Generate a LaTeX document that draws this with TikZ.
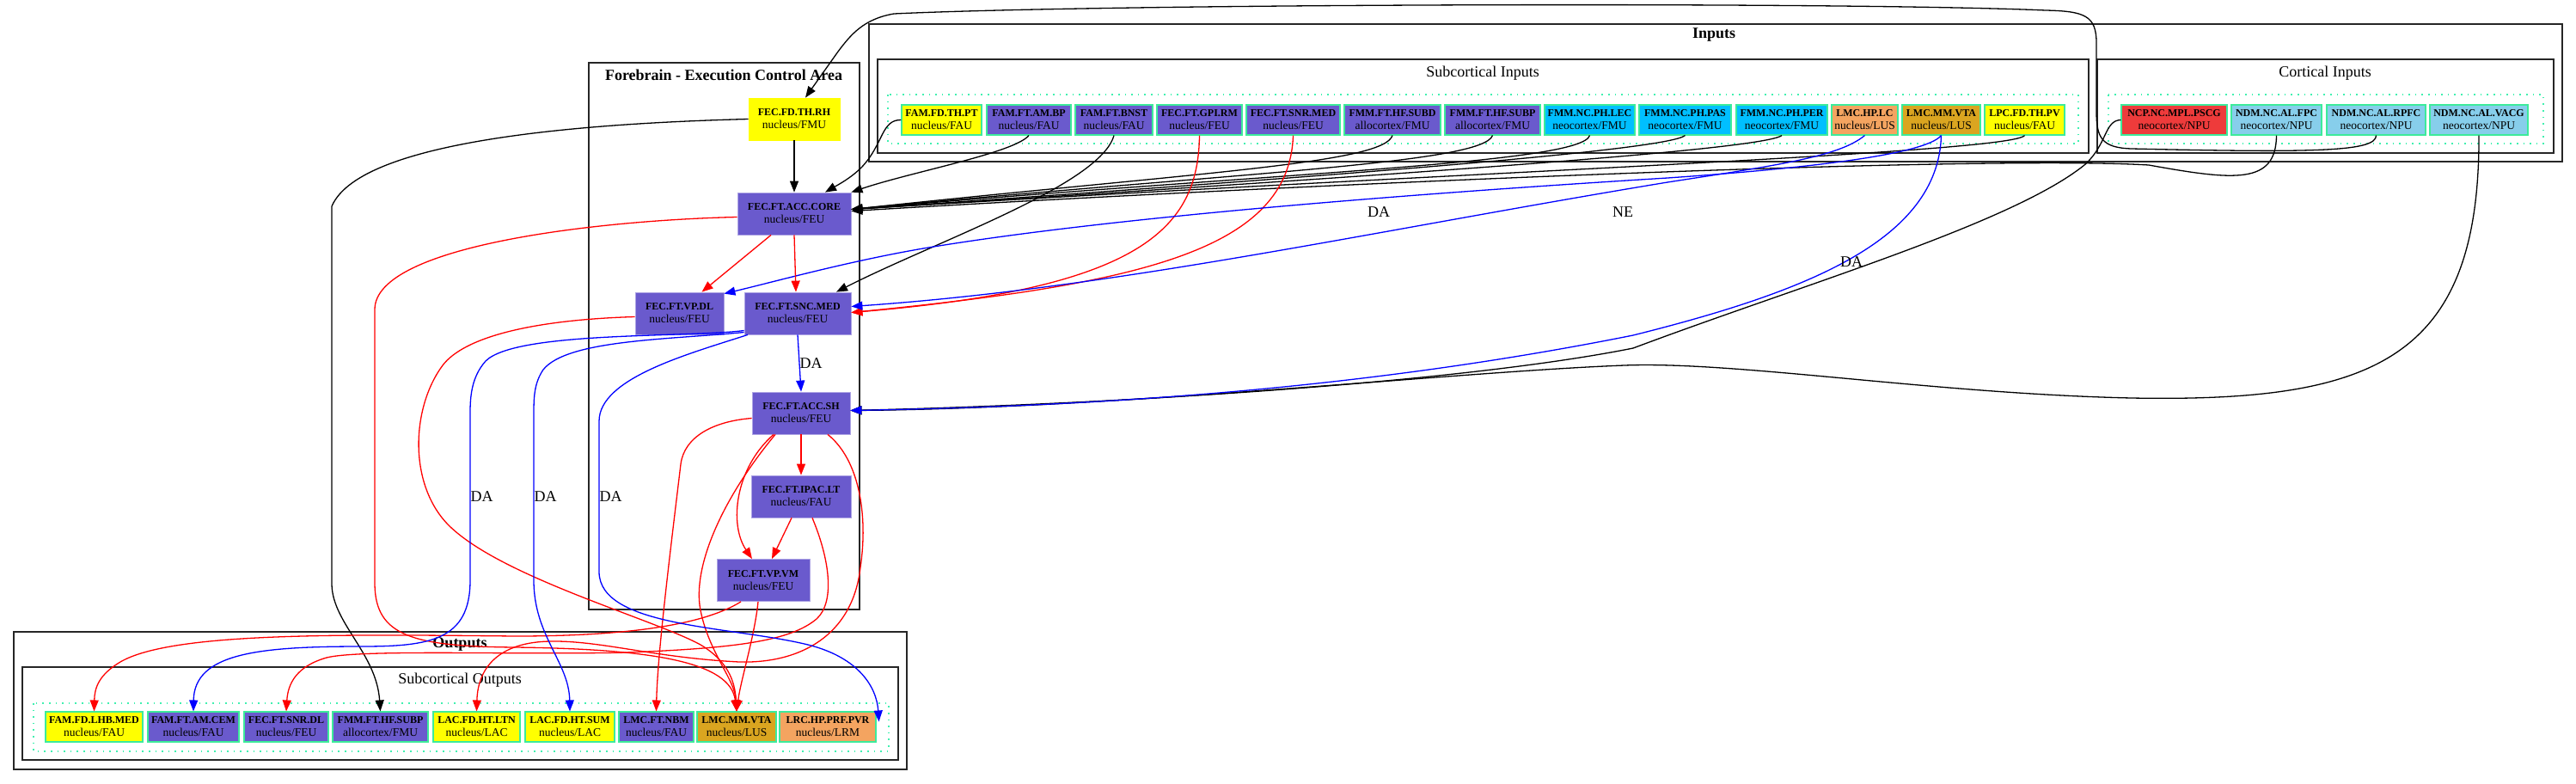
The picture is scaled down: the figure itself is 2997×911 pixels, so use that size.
\documentclass[tikz,border=0pt]{standalone}
\usepackage{fontspec}
\setmainfont{Liberation Serif}
\usetikzlibrary{arrows.meta}

\definecolor{slate}{HTML}{6A5ACD}
\definecolor{sunny}{HTML}{FFFF00}
\definecolor{deepsky}{HTML}{00BFFF}
\definecolor{sandy}{HTML}{F4A460}
\definecolor{golden}{HTML}{DAA520}
\definecolor{pscgred}{HTML}{EE3B3B}
\definecolor{sky}{HTML}{87CEEB}
\definecolor{rim}{HTML}{3CEB9B}
\definecolor{dotrim}{HTML}{40F0B0}
\definecolor{excite}{HTML}{FF0000}
\definecolor{modul}{HTML}{0000FF}

\newcommand{\brainlbl}[2]{{\bfseries #1}\\{\fontsize{13.5}{15}\selectfont #2}}

\begin{document}
\begin{tikzpicture}[
 x=1pt,y=-1pt,font=\fontsize{12}{15}\selectfont,
 area/.style={draw=rim,line width=1.1pt,inner sep=0pt,minimum height=35,align=center},
 core/.style={draw=slate!55!white,fill=slate,line width=0.8pt,inner sep=0pt,
              minimum height=49,align=center},
 cluster/.style={draw=black!85,line width=1.6pt},
 dotbox/.style={draw=dotrim,line width=1.6pt,dash pattern=on 1.6pt off 6pt},
 title/.style={font=\fontsize{18}{20}\selectfont\bfseries,inner sep=0pt},
 subtitle/.style={font=\fontsize{18}{20}\selectfont,inner sep=0pt},
 lbl/.style={font=\fontsize{18}{20}\selectfont,inner sep=0pt},
 flow/.style={-{Triangle[length=13pt,width=10pt]},line width=1.3pt},
 plain/.style={flow,draw=black},
 glut/.style={flow,draw=excite},
 mono/.style={flow,draw=modul}]
\useasboundingbox (0,0) rectangle (2997,911);

% clusters
\draw[cluster] (1011,28) rectangle (2981,188);
\draw[cluster] (1021,69) rectangle (2430,178);
\draw[cluster] (2440,69) rectangle (2971,178);
\draw[dotbox] (1033,110) rectangle (2418,167);
\draw[dotbox] (2453,110) rectangle (2959,167);
\draw[cluster] (685,73) rectangle (1000,709);
\draw[cluster] (16,735) rectangle (1055,895);
\draw[cluster] (26,776) rectangle (1045,884);
\draw[dotbox] (39,818) rectangle (1034,874);
\node[title] (t_inputs) at (1994,41) {Inputs};
\node[subtitle] (t_subin) at (1725,85) {Subcortical Inputs};
\node[subtitle] (t_cortin) at (2705,85) {Cortical Inputs};
\node[title] (t_fore) at (842,87) {Forebrain - Execution Control Area};
\node[title] (t_out) at (535,749) {Outputs};
\node[subtitle] (t_subout) at (535,791) {Subcortical Outputs};

% subcortical inputs
\node[area,fill=sunny,minimum width=93] (in_thpt) at (1095.5,139.5) {\brainlbl{FAM.FD.TH.PT}{nucleus/FAU}};
\node[area,fill=slate,minimum width=98] (in_ambp) at (1197,139.5) {\brainlbl{FAM.FT.AM.BP}{nucleus/FAU}};
\node[area,fill=slate,minimum width=90] (in_bnst) at (1296,139.5) {\brainlbl{FAM.FT.BNST}{nucleus/FAU}};
\node[area,fill=slate,minimum width=99] (in_gpirm) at (1395.5,139.5) {\brainlbl{FEC.FT.GPI.RM}{nucleus/FEU}};
\node[area,fill=slate,minimum width=109] (in_snrmed) at (1504.5,139.5) {\brainlbl{FEC.FT.SNR.MED}{nucleus/FEU}};
\node[area,fill=slate,minimum width=112] (in_subd) at (1620,139.5) {\brainlbl{FMM.FT.HF.SUBD}{allocortex/FMU}};
\node[area,fill=slate,minimum width=111] (in_subp) at (1736.5,139.5) {\brainlbl{FMM.FT.HF.SUBP}{allocortex/FMU}};
\node[area,fill=deepsky,minimum width=105] (in_lec) at (1849.5,139.5) {\brainlbl{FMM.NC.PH.LEC}{neocortex/FMU}};
\node[area,fill=deepsky,minimum width=107] (in_pas) at (1960.5,139.5) {\brainlbl{FMM.NC.PH.PAS}{neocortex/FMU}};
\node[area,fill=deepsky,minimum width=106] (in_per) at (2073,139.5) {\brainlbl{FMM.NC.PH.PER}{neocortex/FMU}};
\node[area,fill=sandy,minimum width=77] (in_lc) at (2169.5,139.5) {\brainlbl{LMC.HP.LC}{nucleus/LUS}};
\node[area,fill=golden,minimum width=91] (in_vta) at (2258.5,139.5) {\brainlbl{LMC.MM.VTA}{nucleus/LUS}};
\node[area,fill=sunny,minimum width=93] (in_pv) at (2355.5,139.5) {\brainlbl{LPC.FD.TH.PV}{nucleus/FAU}};
% cortical inputs
\node[area,fill=pscgred,minimum width=123] (in_pscg) at (2529.5,139.5) {\brainlbl{NCP.NC.MPL.PSCG}{neocortex/NPU}};
\node[area,fill=sky,minimum width=105] (in_fpc) at (2648.5,139.5) {\brainlbl{NDM.NC.AL.FPC}{neocortex/NPU}};
\node[area,fill=sky,minimum width=115] (in_rpfc) at (2764.5,139.5) {\brainlbl{NDM.NC.AL.RPFC}{neocortex/NPU}};
\node[area,fill=sky,minimum width=114] (in_vacg) at (2884,139.5) {\brainlbl{NDM.NC.AL.VACG}{neocortex/NPU}};

% forebrain
\node[core,fill=sunny,draw=sunny,minimum width=106] (fb_rh) at (924,138.5) {\brainlbl{FEC.FD.TH.RH}{nucleus/FMU}};
\node[core,minimum width=132] (fb_core) at (924,248.5) {\brainlbl{FEC.FT.ACC.CORE}{nucleus/FEU}};
\node[core,minimum width=103] (fb_vpdl) at (790.5,364.5) {\brainlbl{FEC.FT.VP.DL}{nucleus/FEU}};
\node[core,minimum width=124] (fb_snc) at (928,364.5) {\brainlbl{FEC.FT.SNC.MED}{nucleus/FEU}};
\node[core,minimum width=114] (fb_sh) at (932,480.5) {\brainlbl{FEC.FT.ACC.SH}{nucleus/FEU}};
\node[core,minimum width=116] (fb_ipac) at (932,577.5) {\brainlbl{FEC.FT.IPAC.LT}{nucleus/FAU}};
\node[core,minimum width=108] (fb_vpvm) at (888,675) {\brainlbl{FEC.FT.VP.VM}{nucleus/FEU}};

% subcortical outputs
\node[area,fill=sunny,minimum width=113] (out_lhb) at (109.5,845.5) {\brainlbl{FAM.FD.LHB.MED}{nucleus/FAU}};
\node[area,fill=slate,minimum width=106] (out_cem) at (225,845.5) {\brainlbl{FAM.FT.AM.CEM}{nucleus/FAU}};
\node[area,fill=slate,minimum width=98] (out_snrdl) at (333,845.5) {\brainlbl{FEC.FT.SNR.DL}{nucleus/FEU}};
\node[area,fill=slate,minimum width=111] (out_subp) at (442.5,845.5) {\brainlbl{FMM.FT.HF.SUBP}{allocortex/FMU}};
\node[area,fill=sunny,minimum width=101] (out_ltn) at (554.5,845.5) {\brainlbl{LAC.FD.HT.LTN}{nucleus/LAC}};
\node[area,fill=sunny,minimum width=104] (out_sum) at (663,845.5) {\brainlbl{LAC.FD.HT.SUM}{nucleus/LAC}};
\node[area,fill=slate,minimum width=87] (out_nbm) at (763.5,845.5) {\brainlbl{LMC.FT.NBM}{nucleus/FAU}};
\node[area,fill=golden,minimum width=92] (out_vta) at (857,845.5) {\brainlbl{LMC.MM.VTA}{nucleus/LUS}};
\node[area,fill=sandy,minimum width=112] (out_pvr) at (963,845.5) {\brainlbl{LRC.HP.PRF.PVR}{nucleus/LRM}};

% black projections
\draw[plain] (in_rpfc.south) .. controls (2764,176) and (2700,178) .. (2480,173)
 .. controls (2445,172) and (2439,160) .. (2439,130) -- (2439,50)
 .. controls (2439,18) and (2425,13) .. (2380,12)
 .. controls (2150,2) and (1300,4) .. (1040,16)
 .. controls (1005,22) and (990,40) .. (975,60) -- ([xshift=13pt]fb_rh.north);
\draw[plain] (fb_rh) -- (fb_core);
\draw[plain] (fb_rh.west) .. controls (700,143) and (420,160) .. (386,240) -- (386,680)
 .. controls (387,725) and (438,760) .. (out_subp.north);
\draw[plain] (in_thpt.west) .. controls (1025,139) and (1028,168) .. (1002,195)
 .. controls (990,207) and (975,215) .. ([xshift=36pt]fb_core.north);
\draw[plain] (in_ambp.south) .. controls (1180,178) and (1060,200) .. (fb_core.north east);
\draw[plain] (in_bnst.south) .. controls (1280,215) and (1090,280) .. ([xshift=45pt]fb_snc.north);
\draw[plain] (in_subd.south) .. controls (1610,190) and (1400,200) .. ([yshift=5pt]fb_core.east);
\draw[plain] (in_subp.south) .. controls (1725,190) and (1450,200) .. ([yshift=5pt]fb_core.east);
\draw[plain] (in_lec.south) .. controls (1840,190) and (1500,200) .. ([yshift=5pt]fb_core.east);
\draw[plain] (in_pas.south) .. controls (1940,175) and (1550,205) .. ([yshift=5pt]fb_core.east);
\draw[plain] (in_per.south) .. controls (2050,175) and (1600,205) .. ([yshift=5pt]fb_core.east);
\draw[plain] (in_pv.south) .. controls (2340,178) and (1700,200) .. ([yshift=5pt]fb_core.east);
\draw[plain] (in_fpc.south) .. controls (2648,215) and (2600,210) .. (2500,192)
 .. controls (2300,180) and (1500,215) .. ([yshift=3pt]fb_core.east);
\draw[plain] (in_pscg.west) .. controls (2448,140) and (2452,168) .. (2425,192)
 .. controls (2340,260) and (2100,330) .. (1900,405)
 .. controls (1700,445) and (1300,470) .. ([yshift=3pt]fb_sh.east);
\draw[plain] (in_vacg.south) .. controls (2885,420) and (2760,468) .. (2480,463)
 .. controls (2250,458) and (2020,420) .. (1890,425)
 .. controls (1700,432) and (1300,475) .. ([yshift=3pt]fb_sh.east);

% inputs: red and blue
\draw[glut] (in_gpirm.south) .. controls (1394,265) and (1330,335) .. ([yshift=1pt]fb_snc.east);
\draw[glut] (in_snrmed.south) .. controls (1500,290) and (1330,330) .. ([yshift=1pt]fb_snc.east);
\draw[mono] (in_lc.south) .. controls (2140,182) and (2070,192) .. (1940,212)
 .. controls (1600,268) and (1300,335) .. ([yshift=8pt]fb_snc.east);
\draw[mono] (in_vta.south) .. controls (2240,180) and (2100,196) .. (1940,207)
 .. controls (1600,228) and (1280,255) .. (1080,288)
 .. controls (990,303) and (900,328) .. ([yshift=-2pt]fb_vpdl.north east);
\draw[mono] (in_vta.south) .. controls (2255,280) and (2100,340) .. (1900,390)
 .. controls (1600,450) and (1300,472) .. ([yshift=3pt]fb_sh.east);
\node[lbl] (da_vpdl) at (1604,247) {DA};
\node[lbl] (ne_snc) at (1888,247) {NE};
\node[lbl] (da_sh) at (2154,305) {DA};

% forebrain internal
\draw[glut] ([xshift=-27pt]fb_core.south) -- ([xshift=26pt]fb_vpdl.north);
\draw[glut] (fb_core.south) -- ([xshift=-2pt]fb_snc.north);
\draw[mono] (fb_snc.south) -- node[lbl,anchor=west] (da_inner) {DA} (fb_sh.north);
\draw[glut] (fb_sh) -- (fb_ipac);
\draw[glut] ([xshift=-32pt]fb_sh.south) .. controls (855,545) and (848,610) .. ([xshift=-13pt]fb_vpvm.north);
\draw[glut] ([xshift=-11pt]fb_ipac.south) -- ([xshift=10pt]fb_vpvm.north);

% forebrain to outputs
\draw[glut] ([yshift=-4pt]fb_core.west) .. controls (700,256) and (436,285) .. (436,360) -- (436,680)
 .. controls (437,740) and (480,752) .. (600,753)
 .. controls (760,755) and (850,770) .. (out_vta.north);
\draw[glut] ([yshift=-4pt]fb_vpdl.west) .. controls (620,372) and (540,392) .. (515,425)
 .. controls (478,475) and (475,565) .. (523,612)
 .. controls (585,672) and (760,720) .. (815,750)
 .. controls (845,768) and (855,790) .. (out_vta.north);
\draw[glut] ([yshift=-6pt]fb_sh.west) .. controls (830,490) and (796,508) .. (792,540)
 .. controls (780,640) and (765,760) .. (out_nbm.north);
\draw[glut] ([xshift=-30pt]fb_sh.south) .. controls (840,580) and (805,660) .. (815,710)
 .. controls (825,760) and (855,790) .. (out_vta.north);
\draw[glut] ([xshift=31pt]fb_sh.south) .. controls (1000,535) and (1010,600) .. (1001,660)
 .. controls (992,740) and (930,772) .. (860,770)
 .. controls (760,765) and (700,745) .. (640,746)
 .. controls (582,747) and (556,775) .. (out_ltn.north);
\draw[glut] ([xshift=13pt]fb_ipac.south) .. controls (965,650) and (972,700) .. (950,720)
 .. controls (920,745) and (860,754) .. (728,759)
 .. controls (600,762) and (420,755) .. (380,765)
 .. controls (345,775) and (335,795) .. (out_snrdl.north);
\draw[glut] ([xshift=-26pt]fb_vpvm.south) .. controls (830,720) and (760,740) .. (600,740)
 .. controls (400,738) and (200,735) .. (140,770)
 .. controls (115,785) and (110,800) .. (out_lhb.north);
\draw[glut] ([xshift=-6pt]fb_vpvm.south) .. controls (878,740) and (862,790) .. (out_vta.north);
\draw[mono] ([yshift=-20pt]fb_snc.west) .. controls (800,393) and (600,385) .. (565,420)
 .. controls (549,438) and (547,460) .. (547,480) -- node[lbl,anchor=west] (da_cem) {DA} (547,675)
 .. controls (547,745) and (500,752) .. (420,752)
 .. controls (300,752) and (226,760) .. (out_cem.north);
\draw[mono] ([yshift=-22pt]fb_snc.west) .. controls (780,395) and (660,395) .. (632,430)
 .. controls (622,445) and (621,460) .. (621,480) -- node[lbl,anchor=west] (da_sum) {DA} (621,675)
 .. controls (621,740) and (662,770) .. (out_sum.north);
\draw[mono] ([xshift=-58pt]fb_snc.south) .. controls (800,412) and (697,440) .. (697,490)
 -- node[lbl,anchor=west] (da_pvr) {DA} (697,665)
 .. controls (697,730) and (850,728) .. (940,750)
 .. controls (1000,765) and (1020,800) .. ([xshift=3pt,yshift=-12pt]out_pvr.north east);
\end{tikzpicture}
\end{document}
